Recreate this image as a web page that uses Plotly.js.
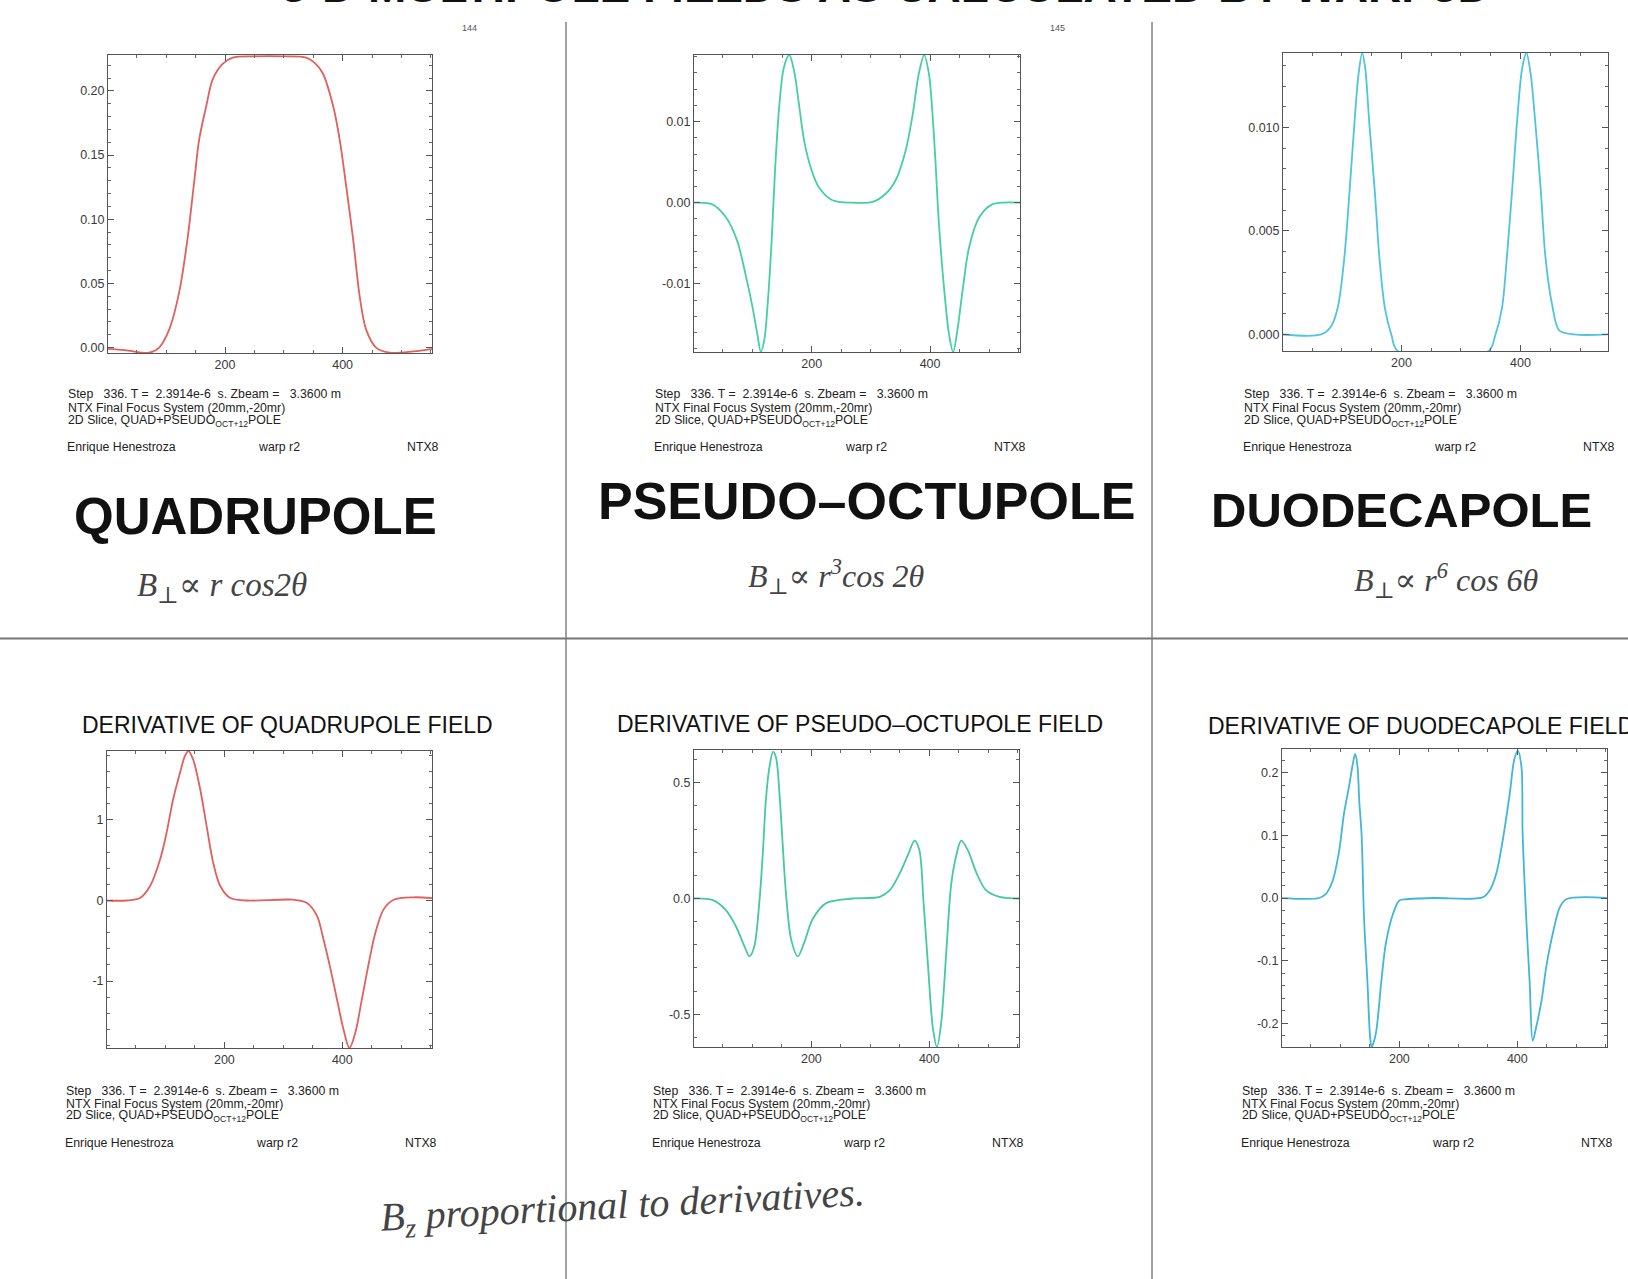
<!DOCTYPE html>
<html>
<head>
<meta charset="utf-8">
<script src="https://cdn.plot.ly/plotly-3.0.1.min.js"></script>
<style>html,body{margin:0;padding:0;background:#fff;}#chart{width:1628px;height:1279px;}</style>
</head>
<body>
<div id="chart"></div>
<script>
// ---------- DATA ----------
const quadX = [0,30,71,88,105,122,136,148,156,168,179,196,213,250,300,338,352,366,384,395,406,418,429,440,457,480,520,552];
const quadY = [-0.001,-0.002,-0.004,0.000,0.014,0.043,0.084,0.131,0.162,0.188,0.209,0.221,0.226,0.227,0.227,0.226,0.222,0.214,0.188,0.162,0.126,0.084,0.040,0.014,0.000,-0.004,-0.003,-0.001];

const octX = [0,32,55,74,88,100,108,114,120,126,132,138,145,153,162,170,179,187,198,212,235,269,303,325,342,359,370,381,390,398,407,415,424,432,439,446,455,466,483,505,552];
const octY = [0,-0.0002,-0.0018,-0.0047,-0.0088,-0.0129,-0.0162,-0.0184,-0.0168,-0.0120,-0.0050,0.0040,0.0118,0.0167,0.0182,0.0163,0.0118,0.0077,0.0044,0.0019,0.0003,0,0.0001,0.0011,0.0028,0.0065,0.0106,0.0159,0.0182,0.0159,0.0077,-0.0026,-0.0108,-0.0162,-0.0184,-0.0158,-0.0108,-0.0055,-0.0018,-0.0002,0];

const duoX = [0,65,82,93,104,113,121,128,134,139,146,155,163,172,183,194,346,358,369,377,386,394,403,410,417,425,434,442,454,465,490,547];
const duoY = [0,0,0.0004,0.0013,0.0037,0.0070,0.0102,0.0126,0.0136,0.0129,0.0102,0.0070,0.0037,0.0013,0.0000,-0.0008,-0.0008,0.0000,0.0013,0.0037,0.0070,0.0102,0.0129,0.0136,0.0126,0.0102,0.0070,0.0037,0.0013,0.0002,0,0];

const dQuadX = [0,34,57,74,91,102,113,125,133,139,147,159,170,181,193,210,238,317,340,357,368,379,391,402,412,422,433,445,456,470,487,521,552];
const dQuadY = [0,0,0.03,0.18,0.51,0.84,1.25,1.59,1.79,1.855,1.75,1.38,0.92,0.47,0.18,0.03,0,0.01,-0.03,-0.19,-0.48,-0.82,-1.23,-1.60,-1.83,-1.64,-1.23,-0.77,-0.40,-0.11,0.01,0.04,0.03];

const dOctX = [0,33,55,72,87,95,103,112,118,123,129,135,140,146,151,157,166,177,188,202,225,270,316,333,350,364,375,383,390,398,406,413,420,429,437,446,454,465,480,496,519,552];
const dOctY = [0,-0.007,-0.05,-0.12,-0.21,-0.25,-0.21,-0.01,0.21,0.43,0.57,0.635,0.61,0.45,0.25,0.02,-0.18,-0.25,-0.19,-0.09,-0.02,0,0.007,0.036,0.11,0.19,0.25,0.21,-0.01,-0.30,-0.56,-0.642,-0.54,-0.22,0.06,0.19,0.25,0.21,0.11,0.036,0.007,0];

const dDuoX = [0,64,75,87,98,106,115,121,125,129,132,136,140,146,150,153,160,169,177,189,200,211,257,341,353,364,375,387,395,401,407,409,415,421,426,432,441,449,460,472,483,552];
const dDuoY = [0,0,0.006,0.028,0.076,0.134,0.18,0.214,0.23,0.21,0.155,0.10,-0.03,-0.137,-0.217,-0.238,-0.217,-0.137,-0.073,-0.026,-0.004,-0.002,0,0.001,0.012,0.038,0.091,0.166,0.222,0.235,0.209,0.102,-0.031,-0.137,-0.228,-0.206,-0.164,-0.11,-0.057,-0.015,-0.002,0];

// tick labels
const xTickVals = [200, 400];
const xTickText = ["200", "400"];
const yTicks = [
  {vals: [0, 0.05, 0.10, 0.15, 0.20], text: ["0.00", "0.05", "0.10", "0.15", "0.20"]},
  {vals: [-0.01, 0, 0.01], text: ["-0.01", "0.00", "0.01"]},
  {vals: [0, 0.005, 0.010], text: ["0.000", "0.005", "0.010"]},
  {vals: [-1, 0, 1], text: ["-1", "0", "1"]},
  {vals: [-0.5, 0, 0.5], text: ["-0.5", "0.0", "0.5"]},
  {vals: [-0.2, -0.1, 0, 0.1, 0.2], text: ["-0.2", "-0.1", "0.0", "0.1", "0.2"]}
];

const bigLabels = ["QUADRUPOLE", "PSEUDO\u2013OCTUPOLE", "DUODECAPOLE"];
const derivTitles = ["DERIVATIVE OF QUADRUPOLE FIELD", "DERIVATIVE OF PSEUDO\u2013OCTUPOLE FIELD", "DERIVATIVE OF DUODECAPOLE FIELD"];
const formulas = ["B<sub>\u22a5</sub>\u221d r cos2\u03b8", "B<sub>\u22a5</sub>\u221d r<sup>3</sup>cos 2\u03b8", "B<sub>\u22a5</sub>\u221d r<sup>6</sup> cos 6\u03b8"];
const infoLines = ["Step\u00a0\u00a0\u00a0336. T =\u00a0\u00a02.3914e-6\u00a0\u00a0s. Zbeam =\u00a0\u00a0\u00a03.3600 m",
                   "NTX Final Focus System (20mm,-20mr)",
                   "2D Slice, QUAD+PSEUDO<sub>OCT+12</sub>POLE"];
const footer = ["Enrique Henestroza", "warp r2", "NTX8"];
const pageNums = ["144", "145"];
const pageTitle = "3-D MULTIPOLE FIELDS AS CALCULATED BY WARP3D";
const noteText = "B<sub>z</sub> proportional to derivatives.";

// ---------- LAYOUT HELPERS ----------
const W = 1628, H = 1279;
const px = x => x / W;
const py = y => 1 - y / H;
const FONT = "Liberation Sans, Arial, Helvetica, sans-serif";
const HAND = "Liberation Serif, DejaVu Serif, serif";
const TICKFONT = {family: FONT, size: 12.5, color: '#3a3a3a'};

function xAxis(x0, x1, range) {
  return {
    domain: [px(x0), px(x1)], range: range, tickmode: 'array', tickvals: xTickVals, ticktext: xTickText,
    ticks: 'inside', ticklen: 6, tickwidth: 1, tickcolor: '#555',
    showline: true, linecolor: '#555', linewidth: 1, mirror: 'ticks',
    showgrid: false, zeroline: false,
    minor: {ticks: 'inside', ticklen: 3, tickmode: 'linear', tick0: 0, dtick: 50, tickcolor: '#666', showgrid: false},
    tickfont: TICKFONT
  };
}
function yAxis(y0, y1, range, t, minor) {
  return {
    domain: [py(y1), py(y0)], range: range, tickmode: 'array', tickvals: t.vals, ticktext: t.text,
    ticks: 'inside', ticklen: 6, tickwidth: 1, tickcolor: '#555',
    showline: true, linecolor: '#555', linewidth: 1, mirror: 'ticks',
    showgrid: false, zeroline: false,
    minor: {ticks: 'inside', ticklen: 3, tickmode: 'linear', tick0: 0, dtick: minor, tickcolor: '#666', showgrid: false},
    tickfont: TICKFONT
  };
}

const boxes = [
  {x0:108, x1:432, y0:55, y1:353},
  {x0:694, x1:1020, y0:55, y1:352},
  {x0:1283, x1:1608, y0:53, y1:351},
  {x0:107, x1:432, y0:751, y1:1048},
  {x0:694, x1:1019, y0:750, y1:1047},
  {x0:1282, x1:1607, y0:749, y1:1047}
];

const colors = ['#e0605c', '#45cfa3', '#4fc4de', '#e0605c', '#45c9a0', '#42b6d8'];
const series = [[quadX, quadY],[octX, octY],[duoX, duoY],[dQuadX, dQuadY],[dOctX, dOctY],[dDuoX, dDuoY]];

const traces = series.map((s, i) => ({
  type: 'scatter', mode: 'lines', x: s[0], y: s[1],
  xaxis: i === 0 ? 'x' : 'x' + (i + 1), yaxis: i === 0 ? 'y' : 'y' + (i + 1),
  line: {color: colors[i], width: 1.8, shape: 'spline', smoothing: 0.9},
  hoverinfo: 'skip', showlegend: false
}));

const yRanges = [[-0.0042, 0.228], [-0.0184, 0.0182], [-0.0008, 0.0136], [-1.83, 1.855], [-0.642, 0.642], [-0.238, 0.238]];
const yMinor = [0.01, 0.002, 0.001, 0.2, 0.1, 0.02];
const xRanges = [[1, 552], [1, 552], [1, 547], [1, 552], [1, 552], [1, 552]];

const layout = {
  width: W, height: H, margin: {l: 0, r: 0, t: 0, b: 0},
  paper_bgcolor: '#ffffff', plot_bgcolor: '#ffffff', showlegend: false,
  font: {family: FONT, color: '#222'},
  shapes: [
    {type: 'line', xref: 'paper', yref: 'paper', x0: px(566), x1: px(566), y0: py(22), y1: py(1279), line: {color: '#444', width: 1}},
    {type: 'line', xref: 'paper', yref: 'paper', x0: px(1152), x1: px(1152), y0: py(22), y1: py(1279), line: {color: '#444', width: 1}},
    {type: 'line', xref: 'paper', yref: 'paper', x0: 0, x1: 1, y0: py(638.5), y1: py(638.5), line: {color: '#777', width: 2}}
  ],
  annotations: []
};

boxes.forEach((b, i) => {
  const k = i === 0 ? '' : (i + 1);
  layout['xaxis' + k] = xAxis(b.x0, b.x1, xRanges[i]);
  layout['yaxis' + k] = yAxis(b.y0, b.y1, yRanges[i], yTicks[i], yMinor[i]);
  layout['xaxis' + k].anchor = 'y' + k;
  layout['yaxis' + k].anchor = 'x' + k;
});

function ann(text, x, y, opts) {
  layout.annotations.push(Object.assign({
    text: text, xref: 'paper', yref: 'paper', x: px(x), y: py(y),
    xanchor: 'left', yanchor: 'middle', showarrow: false, borderpad: 0,
    font: {family: FONT, size: 11, color: '#222'}
  }, opts || {}));
}

// page title (cut off at the top edge)
ann(pageTitle, 886, 13, {xanchor: 'center', yanchor: 'bottom', font: {family: FONT, size: 46, color: '#111', weight: 'bold'}});
// page numbers
ann(pageNums[0], 469, 28, {xanchor: 'center', font: {family: FONT, size: 9, color: '#555'}});
ann(pageNums[1], 1057, 28, {xanchor: 'center', font: {family: FONT, size: 9, color: '#555'}});

// info blocks
const infoRows = [
  {pts: [{x: 67}, {x: 654}, {x: 1243}], y0: 394.5, dy: 13, fy: 446.5},
  {pts: [{x: 65}, {x: 652}, {x: 1241}], y0: 1091, dy: 12.6, fy: 1143}
];
const INFOFONT = {family: FONT, size: 12.3, color: '#222'};
infoRows.forEach(row => {
  row.pts.forEach(p => {
    infoLines.forEach((t, j) => ann(t, p.x, row.y0 + j * row.dy, {font: INFOFONT}));
    ann(footer[0], p.x - 1, row.fy, {font: INFOFONT});
    ann(footer[1], p.x + 190, row.fy, {font: INFOFONT});
    ann(footer[2], p.x + 339, row.fy, {font: INFOFONT});
  });
});

// big labels
ann(bigLabels[0], 255, 516, {xanchor: 'center', font: {family: FONT, size: 51, color: '#111', weight: 'bold'}});
ann(bigLabels[1], 867, 501, {xanchor: 'center', font: {family: FONT, size: 52, color: '#111', weight: 'bold'}});
ann(bigLabels[2], 1401, 510, {xanchor: 'center', font: {family: FONT, size: 49, color: '#111', weight: 'bold'}});

// handwritten formulas
ann(formulas[0], 222, 587, {xanchor: 'center', font: {family: HAND, size: 33, color: '#444', style: 'italic'}});
ann(formulas[1], 836, 576, {xanchor: 'center', font: {family: HAND, size: 32, color: '#444', style: 'italic'}});
ann(formulas[2], 1446, 580, {xanchor: 'center', font: {family: HAND, size: 32, color: '#444', style: 'italic'}});

// derivative titles
ann(derivTitles[0], 287, 725, {xanchor: 'center', font: {family: FONT, size: 23, color: '#111'}});
ann(derivTitles[1], 860, 724, {xanchor: 'center', font: {family: FONT, size: 23, color: '#111'}});
ann(derivTitles[2], 1207, 726, {xanchor: 'left', font: {family: FONT, size: 23, color: '#111'}});

// handwritten note
ann(noteText, 622, 1207, {xanchor: 'center', textangle: -3, font: {family: HAND, size: 40, color: '#444', style: 'italic'}});

Plotly.newPlot('chart', traces, layout, {staticPlot: true, displayModeBar: false});
</script>
</body>
</html>
